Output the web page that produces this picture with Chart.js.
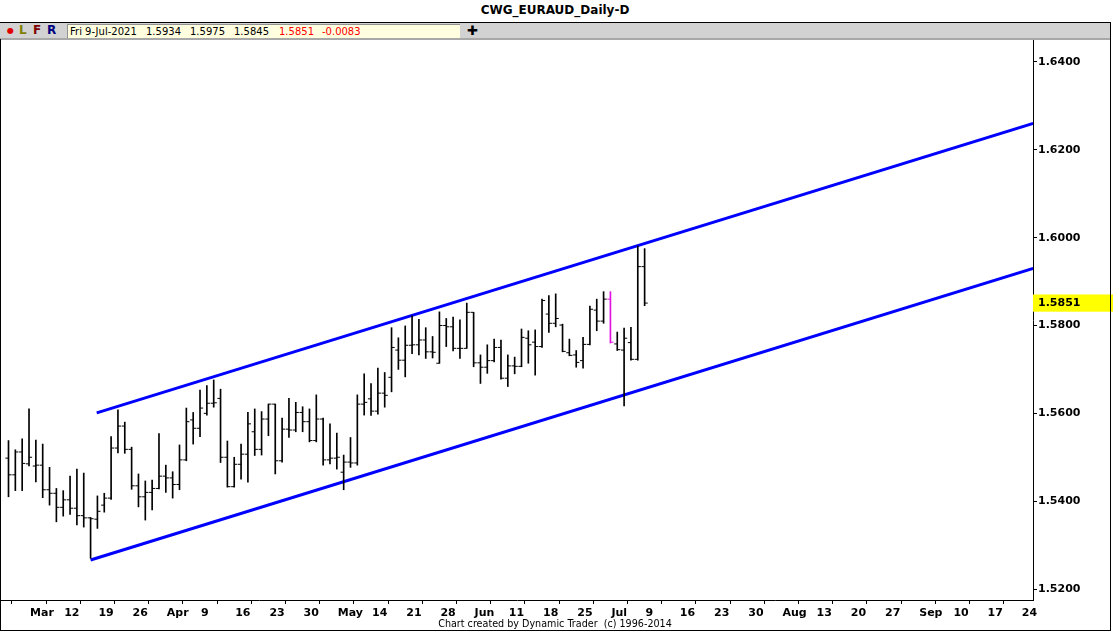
<!DOCTYPE html>
<html>
<head>
<meta charset="utf-8">
<script src="https://cdn.jsdelivr.net/npm/chart.js@4.4.1/dist/chart.umd.min.js"></script>
<style>
body { margin:0; background:#fff; width:1113px; height:632px; overflow:hidden; position:relative; font-family:"DejaVu Sans", sans-serif; }
#title { position:absolute; left:0; top:0; width:1110px; height:22px; line-height:21px; text-align:center; font-weight:bold; font-size:12px; color:#000; }
#bar { position:absolute; left:0; top:22px; width:1110px; height:15px; background:#d2d2d2; border-top:1px solid #000; border-bottom:2px solid #a8a8a8; }
#bar span { position:absolute; top:0; line-height:15px; font-weight:bold; font-size:12px; }
#quote { position:absolute; left:67px; top:1px; width:392px; height:13px; background:#ffffe0; border-left:1px solid #909090; border-top:1px solid #909090; }
#quote span { position:absolute; top:0; line-height:13px; font-size:10px; font-weight:normal; color:#000; }
#wrap { position:absolute; left:0; top:40px; width:1113px; height:580px; }
#foot { position:absolute; left:0; top:617px; width:1110px; text-align:center; font-size:9.6px; line-height:14px; white-space:pre; color:#000; }
.ln { position:absolute; background:#000; }
</style>
</head>
<body>
<div id="title">CWG_EURAUD_Daily-D</div>
<div id="bar">
  <span style="left:7px;color:#e00000;font-size:8px">&#9679;</span>
  <span style="left:19px;color:#808000">L</span>
  <span style="left:33px;color:#800000">F</span>
  <span style="left:47px;color:#000080">R</span>
  <div id="quote">
    <span id="qd" style="left:2px"></span>
    <span id="qo" style="left:78px"></span>
    <span id="qh" style="left:122px"></span>
    <span id="ql" style="left:166px"></span>
    <span id="qc" style="left:211px;color:#ff0000"></span>
    <span id="qx" style="left:254px;color:#ff0000"></span>
  </div>
  <span style="left:467px;font-size:13px">&#10010;</span>
</div>
<div id="wrap"><canvas id="c" width="1113" height="580"></canvas></div>
<div id="foot">Chart created by Dynamic Trader  (c) 1996-2014</div>
<div class="ln" style="left:0;top:39px;width:1px;height:592px"></div>
<div class="ln" style="left:0;top:630px;width:1111px;height:1px"></div>
<div class="ln" style="left:1110px;top:22px;width:1px;height:609px"></div>
<script>
// daily bars, Tue 2-Mar-2021 (index 0) .. Fri 9-Jul-2021 (index 93)
var opens = [
  1.5498, 1.5460, 1.5512, 1.5485, 1.5480, 1.5482, 1.5426, 1.5418, 1.5386, 1.5403,
  1.5384, 1.5367, 1.5362, 1.5359, 1.5391, 1.5407, 1.5521, 1.5571, 1.5518, 1.5435,
  1.5410, 1.5420, 1.5429, 1.5457, 1.5453, 1.5438, 1.5494, 1.5585, 1.5566, 1.5600,
  1.5623, 1.5634, 1.5500, 1.5433, 1.5484, 1.5507, 1.5558, 1.5518, 1.5587, 1.5621,
  1.5492, 1.5564, 1.5562, 1.5602, 1.5581, 1.5538, 1.5587, 1.5494, 1.5498, 1.5466,
  1.5489, 1.5487, 1.5621, 1.5633, 1.5605, 1.5646, 1.5682, 1.5744, 1.5721, 1.5755,
  1.5756, 1.5767, 1.5740, 1.5714, 1.5800, 1.5797, 1.5748, 1.5748, 1.5830, 1.5715,
  1.5705, 1.5720, 1.5750, 1.5680, 1.5708, 1.5707, 1.5771, 1.5762, 1.5752, 1.5826,
  1.5805, 1.5801, 1.5738, 1.5733, 1.5720, 1.5757, 1.5835, 1.5810, 1.5860, 1.5758,
  1.5744, 1.5761, 1.5723, 1.5934];
var highs = [
  1.5538, 1.5517, 1.5542, 1.5610, 1.5539, 1.5530, 1.5477, 1.5429, 1.5424, 1.5457,
  1.5473, 1.5464, 1.5363, 1.5412, 1.5418, 1.5547, 1.5608, 1.5580, 1.5523, 1.5462,
  1.5446, 1.5448, 1.5554, 1.5482, 1.5467, 1.5528, 1.5612, 1.5602, 1.5653, 1.5663,
  1.5676, 1.5655, 1.5537, 1.5500, 1.5530, 1.5602, 1.5610, 1.5604, 1.5621, 1.5621,
  1.5589, 1.5634, 1.5625, 1.5615, 1.5610, 1.5642, 1.5589, 1.5576, 1.5555, 1.5505,
  1.5545, 1.5642, 1.5690, 1.5668, 1.5703, 1.5693, 1.5795, 1.5772, 1.5799, 1.5822,
  1.5814, 1.5795, 1.5775, 1.5831, 1.5816, 1.5819, 1.5813, 1.5851, 1.5830, 1.5733,
  1.5756, 1.5769, 1.5767, 1.5733, 1.5728, 1.5792, 1.5788, 1.5790, 1.5860, 1.5868,
  1.5872, 1.5803, 1.5769, 1.5743, 1.5773, 1.5844, 1.5860, 1.5877, 1.5877, 1.5785,
  1.5794, 1.5796, 1.5981, 1.5975];
var lows = [
  1.5410, 1.5424, 1.5424, 1.5480, 1.5444, 1.5408, 1.5391, 1.5353, 1.5366, 1.5370,
  1.5346, 1.5341, 1.5270, 1.5338, 1.5375, 1.5404, 1.5510, 1.5509, 1.5427, 1.5387,
  1.5357, 1.5380, 1.5428, 1.5420, 1.5407, 1.5426, 1.5492, 1.5530, 1.5547, 1.5596,
  1.5614, 1.5488, 1.5432, 1.5432, 1.5450, 1.5443, 1.5504, 1.5505, 1.5549, 1.5462,
  1.5489, 1.5545, 1.5558, 1.5558, 1.5535, 1.5535, 1.5482, 1.5485, 1.5473, 1.5426,
  1.5477, 1.5482, 1.5596, 1.5595, 1.5598, 1.5614, 1.5649, 1.5700, 1.5683, 1.5736,
  1.5733, 1.5725, 1.5726, 1.5714, 1.5752, 1.5742, 1.5725, 1.5748, 1.5706, 1.5668,
  1.5691, 1.5717, 1.5678, 1.5661, 1.5690, 1.5706, 1.5714, 1.5687, 1.5750, 1.5784,
  1.5797, 1.5740, 1.5731, 1.5705, 1.5703, 1.5756, 1.5788, 1.5805, 1.5760, 1.5743,
  1.5617, 1.5721, 1.5721, 1.5845];
var closes = [
  1.5460, 1.5512, 1.5486, 1.5500, 1.5482, 1.5426, 1.5418, 1.5386, 1.5403, 1.5384,
  1.5367, 1.5362, 1.5360, 1.5377, 1.5407, 1.5521, 1.5571, 1.5518, 1.5435, 1.5410,
  1.5420, 1.5429, 1.5457, 1.5453, 1.5438, 1.5494, 1.5581, 1.5566, 1.5612, 1.5623,
  1.5624, 1.5500, 1.5433, 1.5484, 1.5507, 1.5576, 1.5518, 1.5587, 1.5621, 1.5492,
  1.5564, 1.5562, 1.5602, 1.5581, 1.5538, 1.5587, 1.5494, 1.5498, 1.5500, 1.5489,
  1.5487, 1.5621, 1.5625, 1.5605, 1.5646, 1.5641, 1.5750, 1.5721, 1.5755, 1.5756,
  1.5767, 1.5740, 1.5739, 1.5800, 1.5797, 1.5748, 1.5748, 1.5830, 1.5715, 1.5705,
  1.5720, 1.5750, 1.5680, 1.5708, 1.5707, 1.5773, 1.5756, 1.5752, 1.5857, 1.5805,
  1.5816, 1.5741, 1.5732, 1.5716, 1.5757, 1.5837, 1.5810, 1.5860, 1.5762, 1.5745,
  1.5771, 1.5723, 1.5934, 1.5851];

var lastDate = "Fri 9-Jul-2021";
var markedBar = 88;   // Fri 2-Jul, drawn in magenta

// friday ticks on the day index axis
var xTickIdx = [3, 8, 13, 18, 23, 28, 33, 38, 43, 48, 53, 58, 63, 68, 73, 78, 83, 88, 93,
                98, 103, 108, 113, 118, 123, 128, 133, 138, 143, 148];
var xTickLabels = ["Mar", "12", "19", "26", "Apr", "9", "16", "23", "30", "May", "14", "21", "28",
                   "Jun", "11", "18", "25", "Jul", "9", "16", "23", "30", "Aug", "13", "20", "27",
                   "Sep", "10", "17", "24"];
var yTicks = [1.52, 1.54, 1.56, 1.58, 1.60, 1.62, 1.64];

// channel lines (day index, price)
var upperChannel = [{x: 12.9, y: 1.5601}, {x: 149.8, y: 1.6260}];
var lowerChannel = [{x: 12.0, y: 1.5266}, {x: 149.8, y: 1.5930}];

var xMin = -1.0965, xMax = 149.78;
var yMin = 1.5175, yMax = 1.6450;

var n = closes.length - 1;
var lastClose = closes[n];
document.getElementById('qd').textContent = lastDate;
document.getElementById('qo').textContent = opens[n].toFixed(4);
document.getElementById('qh').textContent = highs[n].toFixed(4);
document.getElementById('ql').textContent = lows[n].toFixed(4);
document.getElementById('qc').textContent = lastClose.toFixed(4);
document.getElementById('qx').textContent = (lastClose - closes[n - 1]).toFixed(4);

function barColor(ctx) {
  return ctx.dataIndex === markedBar ? '#e010e0' : '#000000';
}

var axisFont = {family: 'DejaVu Sans', size: 11, weight: 'bold'};

new Chart(document.getElementById('c'), {
  type: 'bar',
  data: {
    datasets: [
      {
        type: 'bar',
        data: highs.map(function (h, i) { return {x: i, y: [lows[i], h]}; }),
        backgroundColor: barColor,
        borderWidth: 0,
        barThickness: 1
      },
      {
        type: 'scatter',
        data: opens.map(function (o, i) { return {x: i - 0.22, y: o}; }),
        pointStyle: 'line',
        pointRadius: 1.6,
        pointBorderWidth: 1,
        pointBorderColor: barColor
      },
      {
        type: 'scatter',
        data: closes.map(function (c, i) { return {x: i + 0.22, y: c}; }),
        pointStyle: 'line',
        pointRadius: 1.6,
        pointBorderWidth: 1,
        pointBorderColor: barColor
      },
      {
        type: 'line',
        data: upperChannel,
        borderColor: '#0000ff',
        borderWidth: 3,
        pointRadius: 0
      },
      {
        type: 'line',
        data: lowerChannel,
        borderColor: '#0000ff',
        borderWidth: 3,
        pointRadius: 0
      }
    ]
  },
  options: {
    responsive: false,
    animation: false,
    devicePixelRatio: 1,
    events: [],
    layout: {autoPadding: false, padding: {left: 1, top: 0, right: 0, bottom: 0}},
    plugins: {legend: {display: false}, tooltip: {enabled: false}},
    scales: {
      x: {
        type: 'linear',
        min: xMin,
        max: xMax,
        offset: false,
        afterBuildTicks: function (s) {
          s.ticks = xTickIdx.map(function (v) { return {value: v}; });
        },
        afterFit: function (s) {
          s.height = 20; s.paddingLeft = 0; s.paddingRight = 0;
        },
        grid: {display: true, drawOnChartArea: false, drawTicks: true, tickLength: 4, tickColor: '#000'},
        border: {display: true, color: '#000', width: 1},
        ticks: {
          autoSkip: false, maxRotation: 0, align: 'start', padding: 3, labelOffset: 1,
          color: '#000', font: axisFont,
          callback: function (v, i) { return xTickLabels[i]; }
        }
      },
      y: {
        type: 'linear',
        position: 'right',
        min: yMin,
        max: yMax,
        afterBuildTicks: function (s) {
          s.ticks = yTicks.concat([lastClose]).sort().map(function (v) { return {value: v}; });
        },
        afterFit: function (s) {
          s.width = 80; s.paddingTop = 0; s.paddingBottom = 0;
        },
        grid: {
          display: true, drawOnChartArea: false, drawTicks: true, tickLength: 4,
          tickColor: function (ctx) { return ctx.tick && ctx.tick.value === lastClose ? 'rgba(0,0,0,0)' : '#000'; }
        },
        border: {display: true, color: '#000', width: 1},
        ticks: {
          autoSkip: false, padding: 1, color: '#000', font: axisFont,
          callback: function (v) { return v.toFixed(4); },
          showLabelBackdrop: function (ctx) { return !!ctx.tick && ctx.tick.value === lastClose; },
          backdropColor: '#ffff00',
          backdropPadding: {left: 6, right: 36, top: 2, bottom: 2}
        }
      }
    }
  }
});
</script>
</body>
</html>
